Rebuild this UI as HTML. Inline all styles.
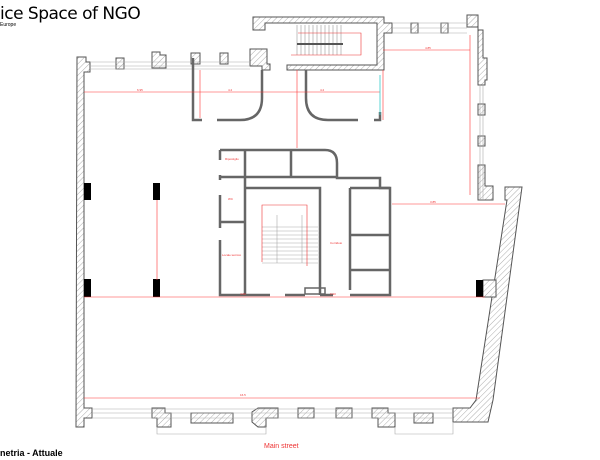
<!DOCTYPE html>
<html><head><meta charset="utf-8"><style>
html,body{margin:0;padding:0;background:#fff;}
svg{display:block;}
text{font-family:"Liberation Sans",sans-serif;}
</style></head><body>
<svg width="600" height="460" viewBox="0 0 600 460" xmlns="http://www.w3.org/2000/svg">
<defs>
<pattern id="h" width="4" height="4" patternUnits="userSpaceOnUse" patternTransform="rotate(45)">
<rect width="4" height="4" fill="#fff"/><line x1="0" y1="0" x2="0" y2="4" stroke="#999" stroke-width="0.8"/>
</pattern>
</defs>
<g stroke="#555" stroke-width="1" fill="url(#h)">
<path d="M77 57 L86 57 L86 62 L90 62 L90 72 L84 72 L84 408 L92 408 L92 418 L84 418 L84 427 L76 427 Z"/>
<rect x="116" y="58" width="8" height="11"/>
<path d="M152 52 L160 52 L160 55 L166 55 L166 68 L152 68 Z"/>
<rect x="191" y="53" width="9" height="11"/>
<rect x="220" y="53" width="8" height="11"/>
<path d="M250 49 L267 49 L267 64 L270 64 L270 70 L262 70 L262 66 L250 66 Z"/>
<path d="M253 17 L384 17 L384 23 L392 23 L392 33 L384 33 L384 70 L287 70 L287 65 L377 65 L377 23 L265 23 L265 30 L253 30 Z"/>
<rect x="411" y="23" width="7" height="10"/>
<rect x="441" y="23" width="7" height="10"/>
<path d="M467 15 L478 15 L478 30 L483 30 L483 58 L487 58 L487 80 L485 80 L485 85 L478 85 L478 27 L467 27 Z"/>
<rect x="478" y="104" width="7" height="11"/>
<rect x="478" y="136" width="7" height="10"/>
<path d="M478 165 L485 165 L485 186 L493 186 L493 200 L478 200 Z"/>
<path d="M505 187 L522 187 L493 400 L488 422 L453 422 L453 408 L470 408 L476 400 L507 200 L505 200 Z"/>
<rect x="483" y="280" width="13" height="17"/>
<path d="M152 408 L165 408 L165 413 L171 413 L171 427 L157 427 L157 418 L152 418 Z"/>
<rect x="191" y="413" width="42" height="10"/>
<path d="M258 408 L278 408 L278 418 L266 418 L266 427 L258 427 L252 422 L252 412 Z"/>
<rect x="298" y="408" width="16" height="10"/>
<rect x="336" y="408" width="16" height="10"/>
<path d="M372 408 L388 408 L388 413 L395 413 L395 427 L378 427 L378 418 L372 418 Z"/>
<rect x="414" y="413" width="19" height="10"/>
</g>
<g stroke="#aaa" stroke-width="0.6" fill="none">
<path d="M90 62 H250 M90 66 H250 M90 69 H250"/>
<path d="M392 23 H467 M392 28 H467 M392 33 H467"/>
<path d="M480 85 V200 M483 85 V200"/>
<path d="M92 409 H453 M92 413 H453 M92 418 H453"/>
<path d="M157 427 V434 H266 V427 M395 427 V434 H453 V422"/>
</g>
<g fill="#000">
<rect x="84" y="183" width="7" height="17"/><rect x="153" y="183" width="7" height="17"/>
<rect x="84" y="279" width="7" height="18"/><rect x="153" y="279" width="7" height="18"/>
<rect x="476" y="280" width="7" height="17"/>
</g>
<g stroke="#999" stroke-width="0.6">
<path d="M297 25V55M301 25V55M305 25V55M309 25V55M313 25V55M317 25V55M321 25V55M325 25V55M329 25V55M333 25V55M337 25V55M341 25V55"/>
</g>
<rect x="297" y="43" width="46" height="2" fill="#555"/>
<path d="M298 33 H361 V55 H291" stroke="#e33" fill="none" stroke-width="0.6"/>
<g stroke="#666" stroke-width="2.5" fill="none">
<path d="M193 58 V120 H202 M217 120 H240 Q262 120 262 98 V70"/>
<path d="M306 70 V98 Q306 120 328 120 H358 M374 120 H380 V112"/>
</g>
<g stroke="#666" stroke-width="2.5" fill="none">
<path d="M220 150 H325 Q337 150 337 163 V178 H380 V188 H390 V295 H350 M333 295 H320 M305 295 H285 M270 295 H220 V240 M220 228 V195 M220 180 V175 M220 160 V150"/>
<path d="M245 150 V295 M291 150 V177 M220 177 H337 M245 188 H320 V295 M220 222 H245 M320 188 V245 M350 188 V290 M350 235 H390 M350 270 H390 M350 188 H390"/>
<rect x="305" y="288" width="20" height="6" stroke-width="1.5"/>
</g>
<g stroke="#aaa" stroke-width="0.6">
<path d="M262 227H318M262 231H318M262 235H318M262 239H318M262 243H318M262 247H318M262 251H318M262 255H318M262 259H318M262 263H318"/>
<path d="M277 215 V263 M302 215 V263"/>
</g>
<path d="M262 262 V205 H307 V266" stroke="#e33" fill="none" stroke-width="0.6"/>
<g stroke="#f33" stroke-width="0.6" fill="none">
<path d="M84 92 H380"/>
<path d="M383 50 H470"/>
<path d="M470 35 V195"/>
<path d="M297 70 V148"/>
<path d="M383 70 V120"/>
<path d="M200 70 V118"/>
<path d="M392 204 H505"/>
<path d="M84 297 H485"/>
<path d="M84 398 H480"/>
<path d="M157 200 V280"/>
</g>
<path d="M380 75 V115" stroke="#3cc" stroke-width="0.8"/>
<g fill="#e33" font-size="3">
<text x="137" y="91">6.95</text><text x="228" y="91">4.2</text><text x="320" y="91">4.2</text>
<text x="425" y="49">4.85</text><text x="240" y="295">4.60</text><text x="330" y="295">0.90</text>
<text x="240" y="396">16.5</text><text x="430" y="203">3.85</text><text x="225" y="160">Ripostiglio</text>
<text x="228" y="200">WC</text><text x="222" y="256">Locale tecnico</text><text x="330" y="244">Corridoio</text>
</g>
<text x="0" y="19" font-size="17" fill="#000" style="font-family:'DejaVu Sans',sans-serif" letter-spacing="-0.5">ice Space of NGO</text>
<text x="0" y="26" font-size="5" fill="#000">Europe</text>
<text x="0" y="456" font-size="9" font-weight="bold" fill="#000">netria - Attuale</text>
<text x="264" y="448" font-size="7" fill="#e33">Main street</text>
</svg>
</body></html>
